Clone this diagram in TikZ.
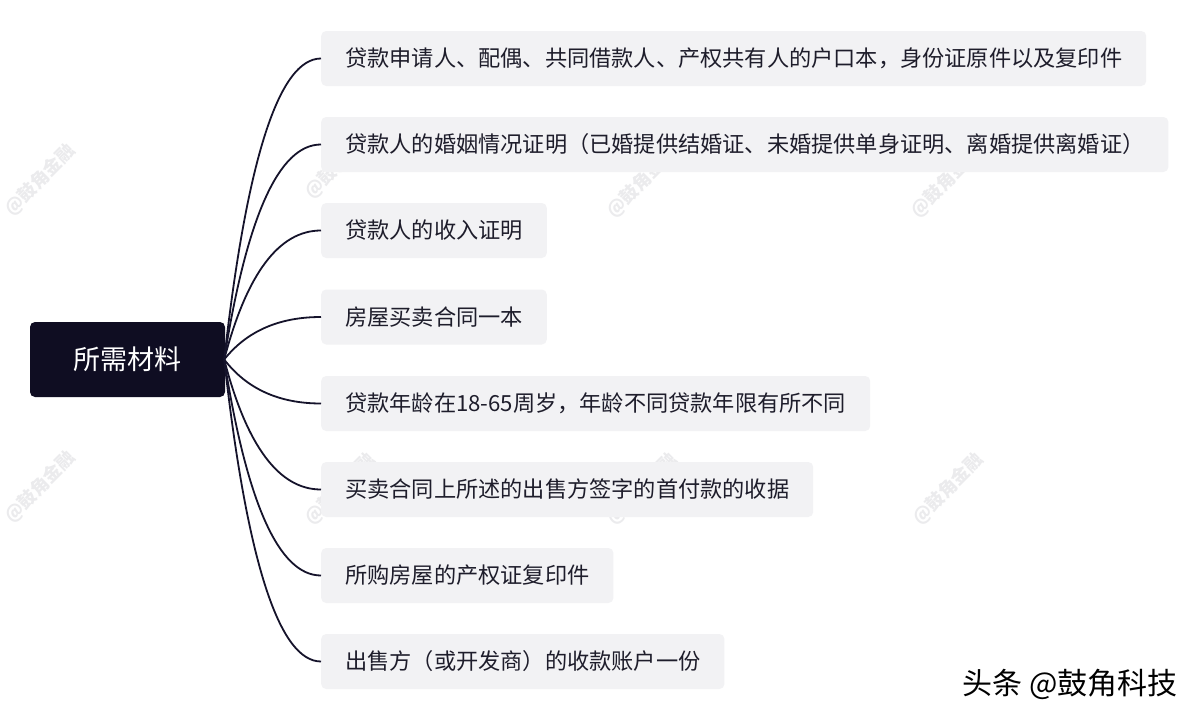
\documentclass[tikz,border=0pt]{standalone}
\usepackage{fontspec}
\newfontfamily\cjk{Noto Sans CJK SC}
\usetikzlibrary{calc}
\definecolor{rootfill}{HTML}{0F0D22}
\definecolor{boxfill}{HTML}{F2F2F4}
\definecolor{boxtext}{HTML}{1E1D2B}
\definecolor{linecol}{HTML}{15132B}
\definecolor{wmcol}{HTML}{EBEBED}
\tikzset{
  rootbox/.style={fill=rootfill, rounded corners=5pt, minimum width=195pt, minimum height=75pt,
    text=white, font=\cjk\fontsize{27}{30}\selectfont, inner sep=0pt},
  itembox/.style={fill=boxfill, rounded corners=5pt, minimum height=55pt, inner xsep=24pt,
    inner ysep=0pt, text=boxtext, font=\cjk\fontsize{22.2}{26}\selectfont, anchor=west},
  conn/.style={draw=linecol, line width=1.8pt},
  wm/.style={text=wmcol, font=\cjk\bfseries\fontsize{18}{20}\selectfont, rotate=45, inner sep=1pt},
  credit/.style={text=black, font=\cjk\fontsize{30}{33}\selectfont, anchor=east}
}
\begin{document}
\begin{tikzpicture}[x=1pt,y=-1pt]
\useasboundingbox (0,0) rectangle (1200,720);
\fill[white] (0,0) rectangle (1200,720);
% watermarks (beneath the boxes)
\node[wm] (w1) at (40,180) {@鼓角金融};
\node[wm] (w2) at (340,163) {@鼓角金融};
\node[wm] (w3) at (642,182) {@鼓角金融};
\node[wm] (w4) at (946,182) {@鼓角金融};
\node[wm] (w5) at (40,487) {@鼓角金融};
\node[wm] (w6) at (340,489) {@鼓角金融};
\node[wm] (w7) at (642,489) {@鼓角金融};
\node[wm] (w8) at (948,489) {@鼓角金融};
% root
\node[rootbox] (root) at (127.5,359.5) {所需材料};
% items
\node[itembox] (b1) at (321,58.5) {贷款申请人、配偶、共同借款人、产权共有人的户口本，身份证原件以及复印件};
\node[itembox] (b2) at (321,144.5) {贷款人的婚姻情况证明（已婚提供结婚证、未婚提供单身证明、离婚提供离婚证）};
\node[itembox] (b3) at (321,230.5) {贷款人的收入证明};
\node[itembox] (b4) at (321,317) {房屋买卖合同一本};
\node[itembox] (b5) at (321,403.5) {贷款年龄在18-65周岁，年龄不同贷款年限有所不同};
\node[itembox] (b6) at (321,489.5) {买卖合同上所述的出售方签字的首付款的收据};
\node[itembox] (b7) at (321,575.5) {所购房屋的产权证复印件};
\node[itembox] (b8) at (321,661.5) {出售方（或开发商）的收款账户一份};
% connectors (quadratic curves)
\coordinate (r0) at ($(root.east)+(-1pt,0)$);
\foreach \i in {1,...,8} {
  \coordinate (q\i) at ($(b\i.west)+(-63pt,0)$);
  \draw[conn] (r0) .. controls ($(r0)!0.6667!(q\i)$) and ($(b\i.west)!0.6667!(q\i)$) .. (b\i.west);
}
% credit
\node[credit] (cr) at (1181,684) {头条 @鼓角科技};
\end{tikzpicture}
\end{document}
